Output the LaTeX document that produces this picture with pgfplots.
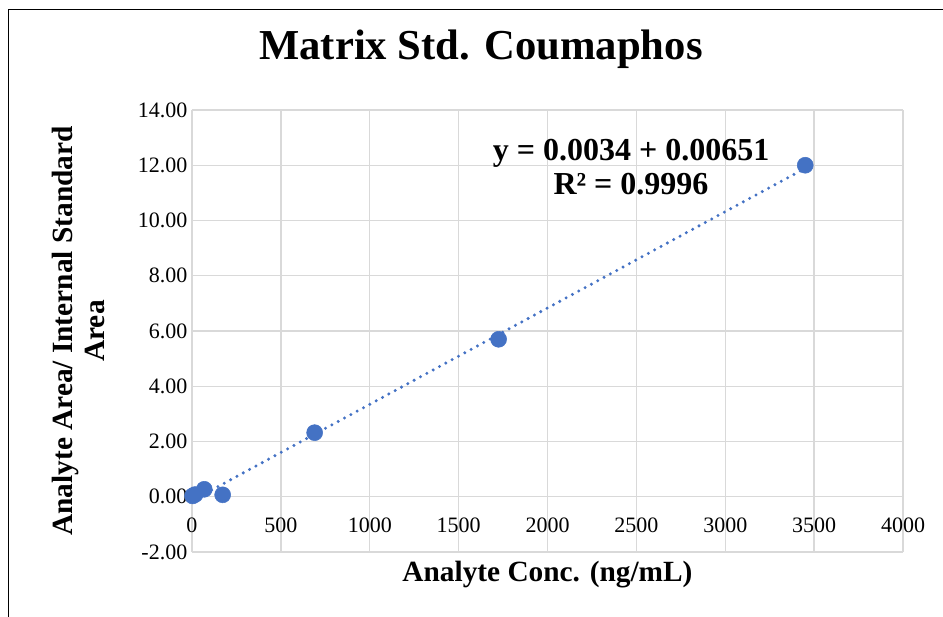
\documentclass[border=0pt]{standalone}
\usepackage{fontspec}
\setmainfont{Liberation Serif}
\usepackage{pgfplots}
\pgfplotsset{compat=1.18}
\definecolor{exblue}{HTML}{4472C4}
\definecolor{gridc}{HTML}{D9D9D9}
\begin{document}
\begin{tikzpicture}
\path[use as bounding box] (0pt,0pt) rectangle (707.25pt,462.75pt);
\draw[line width=1.4pt] (6.4pt,0pt) -- (6.4pt,455.6pt) -- (707.25pt,455.6pt);
\begin{axis}[
  at={(144pt,48.75pt)}, anchor=south west,
  width=533.25pt, height=331.5pt, scale only axis,
  xmin=0, xmax=4000, ymin=-2, ymax=14,
  xtick={0,500,...,4000}, ytick={-2,0,...,14},
  grid=major, major grid style={gridc, line width=1pt},
  axis line style={draw=none}, major tick length=0pt,
  ticklabel style={font=\fontsize{16.5}{18}\selectfont},
  /pgf/number format/assume math mode=true,
  xticklabel style={/pgf/number format/1000 sep={}, yshift=29.5pt},
  yticklabel style={/pgf/number format/fixed, /pgf/number format/fixed zerofill, /pgf/number format/precision=2},
  title={Matrix Std. Coumaphos},
  title style={at={(axis description cs:0.4065,1.12)}, anchor=center, font=\fontsize{32}{36}\selectfont\bfseries},
  xlabel={Analyte Conc. (ng/mL)},
  xlabel style={at={(axis description cs:0.5,-0.052)}, anchor=center, font=\fontsize{22}{24}\selectfont\bfseries},
  ylabel={Analyte Area/ Internal Standard\\Area},
  ylabel style={at={(axis description cs:-0.159,0.5)}, anchor=center, align=center, font=\fontsize{22}{24}\selectfont\bfseries},
  clip=false,
]
\addplot[exblue, line width=2.5pt, line cap=round, dash pattern=on 0pt off 5.4pt] coordinates {(3.45,-0.13) (3450,11.89)};
\addplot[only marks, mark=*, mark size=6pt, color=exblue, mark options={fill=exblue, draw=exblue}] table {
x y
3.45 0.03
17.25 0.08
69 0.27
172.5 0.07
690 2.32
1725 5.70
3450 12.00
};
\node[font=\fontsize{24}{26}\selectfont\bfseries, align=center] at (axis cs:2470,11.93) {y = 0.0034 + 0.00651\\R² = 0.9996};
\end{axis}
\end{tikzpicture}
\end{document}
